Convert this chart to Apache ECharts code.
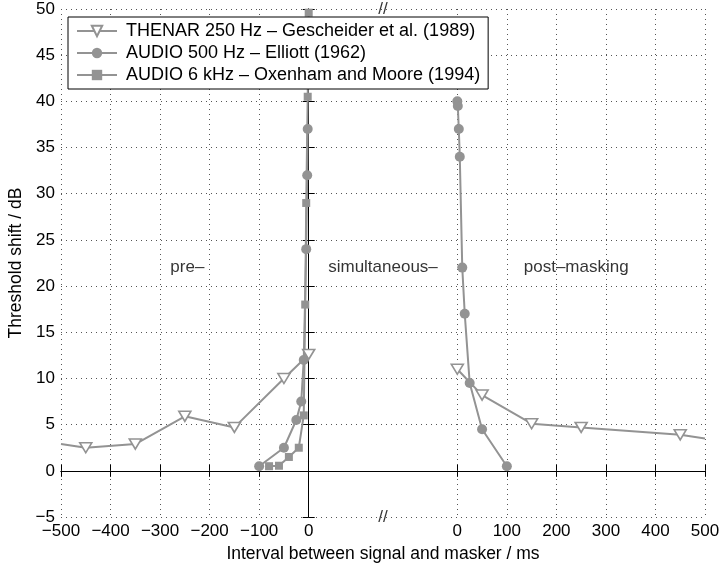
<!DOCTYPE html>
<html><head><meta charset="utf-8">
<script src="https://cdn.jsdelivr.net/npm/echarts@6/dist/echarts.min.js"></script>
<style>html,body{margin:0;padding:0;background:#fff}#c{width:720px;height:565px}</style>
</head><body><div id="c"></div>
<script>
// ---- data (ms, dB) ----
const seriesNames = [
  'THENAR 250 Hz \u2013 Gescheider et al. (1989)',
  'AUDIO 500 Hz \u2013 Elliott (1962)',
  'AUDIO 6 kHz \u2013 Oxenham and Moore (1994)'
];
// left segment: pre- / simultaneous masking (interval ms, threshold shift dB)
const thenarPre   = [[-500,2.9],[-450,2.5],[-350,2.9],[-250,5.9],[-150,4.7],[-50,10],[0,12.6]];
const elliottPre  = [[-100,0.5],[-50,2.5],[-25,5.5],[-15,7.5],[-10,12],[-5,24],[-3,32],[-2,37]];
const oxenhamPre  = [[-80,0.5],[-60,0.55],[-40,1.5],[-20,2.5],[-10,6],[-7,18],[-5,29],[-2,40.5],[0,49.6]];
// right segment: post-masking (interval ms, threshold shift dB)
const thenarPost  = [[0,11],[50,8.2],[150,5.1],[250,4.7],[450,3.9],[500,3.5]];
const elliottPost = [[0,40],[1,39.5],[3,37],[5,34],[10,22],[15,17],[25,9.5],[50,4.5],[100,0.5]];
// tick labels
const leftTicks  = [-500,-400,-300,-200,-100,0];
const rightTicks = [0,100,200,300,400,500];
const yTicks = [-5,0,5,10,15,20,25,30,35,40,45,50];
const annotationTexts = ['pre\u2013','simultaneous\u2013','post\u2013masking'];
const xTitle = 'Interval between signal and masker / ms';
const yTitle = 'Threshold shift / dB';

// ---- broken axis: right segment shifted by GAP ----
const GAP = 300;
const shift = d => [d[0] + GAP, d[1]];
const xTickVals = leftTicks.concat(rightTicks.map(v => v + GAP));
const grey = '#939393';
const FONT = "'Liberation Sans', Arial, Helvetica, sans-serif";

function items(arr, post, hideFirst, hideLast) {
  return arr.map((d, i) => {
    const v = post ? shift(d) : d;
    const it = { value: v };
    if ((hideFirst && i === 0) || (hideLast && i === arr.length - 1)) it.symbol = 'none';
    return it;
  });
}
const fmtNum = v => (v < 0 ? '\u2212' + Math.abs(v) : String(v));

const triPath = 'path://M0,0L12,0L6,10Z';
function lineSeries(name, data, symbol, size, hollow) {
  return {
    type: 'line', name, data, symbol, symbolSize: size,
    color: grey,
    lineStyle: { color: grey, width: 2 },
    itemStyle: hollow ? { color: '#fff', borderColor: grey, borderWidth: 1.6 } : { color: grey },
    emphasis: { disabled: true }, clip: true, animation: false, z: 3
  };
}

const series = [
  lineSeries(seriesNames[0], items(thenarPre, false, true, false), triPath, [12, 10], true),
  lineSeries(seriesNames[0], items(thenarPost, true, false, true), triPath, [12, 10], true),
  lineSeries(seriesNames[1], items(elliottPre, false), 'circle', 10, false),
  lineSeries(seriesNames[1], items(elliottPost, true), 'circle', 10, false),
  lineSeries(seriesNames[2], items(oxenhamPre, false), 'rect', 8, false),
  {
    type: 'scatter', silent: true, symbolSize: 0, animation: false, z: 4,
    label: { show: true, position: 'inside', formatter: p => p.name, fontSize: 17, color: '#000', fontFamily: FONT },
    data: [
      { name: annotationTexts[0], value: [-245, 22] },
      { name: annotationTexts[1], value: [150, 22] },
      { name: annotationTexts[2], value: [240 + GAP, 22] },
      { name: '//', value: [150, -5] },
      { name: '//', value: [150, 50] }
    ]
  }
];

const tickStyle = { color: '#000', width: 1 };
const option = {
  animation: false,
  textStyle: { fontFamily: FONT },
  grid: { left: 61, right: 15, top: 9, bottom: 48, containLabel: false, outerBoundsMode: 'none' },
  legend: {
    data: seriesNames, orient: 'vertical', left: 68, top: 17,
    padding: [5, 8, 5, 8], itemWidth: 40, itemHeight: 13, itemGap: 4,
    backgroundColor: '#fff', borderColor: '#000', borderWidth: 1,
    textStyle: { fontSize: 18, color: '#000', fontFamily: FONT, padding: [0, 0, 0, 4] },
    selectedMode: false, z: 10
  },
  xAxis: [{
    type: 'value', min: -500, max: 800, position: 'bottom',
    axisLine: { lineStyle: tickStyle },
    axisTick: { inside: true, length: 6, customValues: xTickVals, lineStyle: tickStyle },
    axisLabel: { customValues: xTickVals, fontSize: 17, color: '#000', margin: 6, fontFamily: FONT,
      formatter: v => fmtNum(v > 0 ? v - GAP : v) },
    splitLine: { show: true, lineStyle: { color: '#555', width: 1, type: [1, 4] } },
    name: xTitle, nameLocation: 'middle', nameGap: 25,
    nameTextStyle: { fontSize: 17.5, color: '#000', fontFamily: FONT }
  }, {
    type: 'value', min: -500, max: 800, position: 'top',
    axisLine: { lineStyle: tickStyle },
    axisTick: { inside: true, length: 6, customValues: xTickVals, lineStyle: tickStyle },
    axisLabel: { show: false }, splitLine: { show: false }
  }],
  yAxis: [{
    type: 'value', min: -5, max: 50, interval: 5, position: 'left',
    axisLine: { show: true, lineStyle: tickStyle },
    axisTick: { show: true, inside: true, length: 6, lineStyle: tickStyle },
    axisLabel: { fontSize: 17, color: '#000', margin: 6, fontFamily: FONT, formatter: v => fmtNum(v) },
    splitLine: { show: true, lineStyle: { color: '#555', width: 1, type: [1, 4] } },
    name: yTitle, nameLocation: 'middle', nameGap: 28, nameRotate: 90,
    nameTextStyle: { fontSize: 17.5, color: '#000', fontFamily: FONT }
  }, {
    type: 'value', min: -5, max: 50, interval: 5, position: 'right',
    axisLine: { show: true, lineStyle: tickStyle },
    axisTick: { show: true, inside: true, length: 6, lineStyle: tickStyle },
    axisLabel: { show: false }, splitLine: { show: false }
  }],
  series
};
const chart = echarts.init(document.getElementById('c'), null, { renderer: 'canvas' });
chart.setOption(option);
</script></body></html>
